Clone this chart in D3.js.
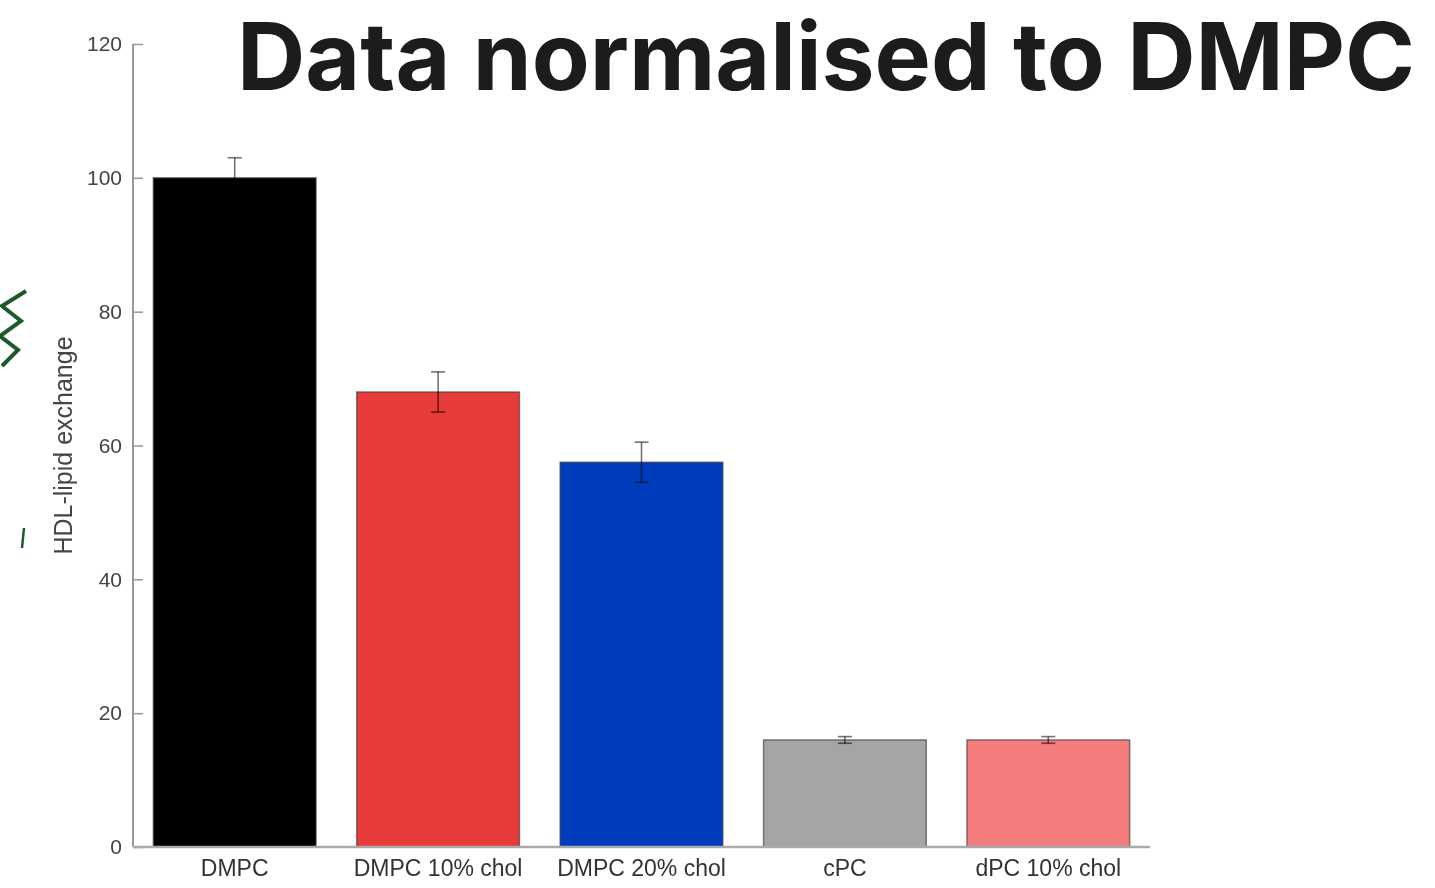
<!DOCTYPE html>
<html>
<head>
<meta charset="utf-8">
<script src="https://cdn.jsdelivr.net/npm/d3@7"></script>
<style>
  html, body { margin: 0; padding: 0; background: #fff; }
  svg { display: block; }
</style>
</head>
<body>
<svg id="chart" width="1435" height="888"></svg>
<script>
// Lipid exchange values, normalised to DMPC = 100
const categories = ["DMPC", "DMPC 10% chol", "DMPC 20% chol", "cPC", "dPC 10% chol"];
const values = [100, 68, 57.5, 16, 16];
const errors = [3, 3, 3, 0.5, 0.5];
const barColors = ["#000000", "#e83a3a", "#003ebd", "#a5a5a5", "#f47c7c"];
const yTicks = [0, 20, 40, 60, 80, 100, 120];
const title = "Data normalised to DMPC";
const yLabel = "HDL-lipid exchange";

const svg = d3.select("#chart");

const defs = svg.append("defs");
defs.append("filter").attr("id", "soft")
  .append("feGaussianBlur").attr("stdDeviation", 0.6);

const plot = { left: 133, right: 1150, top: 44, bottom: 847 };
const font = "'Liberation Sans', Arial, sans-serif";

const x = d3.scaleBand()
  .domain(categories)
  .range([plot.left, plot.right])
  .paddingInner(0.2)
  .paddingOuter(0.1);

const y = d3.scaleLinear()
  .domain([0, 120])
  .range([plot.bottom, plot.top]);

const chart = svg.append("g").attr("filter", "url(#soft)");

// Bars
chart.selectAll("rect.bar")
  .data(categories)
  .join("rect")
  .attr("class", "bar")
  .attr("x", d => x(d))
  .attr("y", (d, i) => y(values[i]))
  .attr("width", x.bandwidth())
  .attr("height", (d, i) => y(0) - y(values[i]))
  .attr("fill", (d, i) => barColors[i])
  .attr("stroke", "#333")
  .attr("stroke-opacity", 0.6)
  .attr("stroke-width", 1.5);

// Error bars
const capW = 14;
const err = chart.selectAll("g.err")
  .data(categories)
  .join("g")
  .attr("class", "err")
  .attr("stroke", "#000")
  .attr("stroke-opacity", 0.55)
  .attr("stroke-width", 1.6);
err.append("line")
  .attr("x1", d => x(d) + x.bandwidth() / 2)
  .attr("x2", d => x(d) + x.bandwidth() / 2)
  .attr("y1", (d, i) => y(values[i] - errors[i]))
  .attr("y2", (d, i) => y(values[i] + errors[i]));
err.append("line")
  .attr("x1", d => x(d) + x.bandwidth() / 2 - capW / 2)
  .attr("x2", d => x(d) + x.bandwidth() / 2 + capW / 2)
  .attr("y1", (d, i) => y(values[i] + errors[i]))
  .attr("y2", (d, i) => y(values[i] + errors[i]));
err.append("line")
  .attr("x1", d => x(d) + x.bandwidth() / 2 - capW / 2)
  .attr("x2", d => x(d) + x.bandwidth() / 2 + capW / 2)
  .attr("y1", (d, i) => y(values[i] - errors[i]))
  .attr("y2", (d, i) => y(values[i] - errors[i]));

// Y axis
const yAxis = chart.append("g")
  .attr("transform", `translate(${plot.left},0)`)
  .call(d3.axisLeft(y).tickValues(yTicks).tickSize(-10).tickPadding(11));
yAxis.select(".domain").attr("stroke", "#999").attr("stroke-width", 2)
  .attr("d", `M0,${plot.top}V${plot.bottom}`);
yAxis.selectAll(".tick line").attr("stroke", "#999").attr("stroke-width", 1.5);
yAxis.selectAll(".tick text")
  .attr("fill", "#444")
  .style("font-family", font)
  .style("font-size", "21px");

// X axis
const xAxis = chart.append("g")
  .attr("transform", `translate(0,${plot.bottom})`)
  .call(d3.axisBottom(x).tickSize(0).tickPadding(13));
xAxis.select(".domain").attr("stroke", "#aaa").attr("stroke-width", 2.5)
  .attr("d", `M${plot.left},0H${plot.right}`);
xAxis.selectAll(".tick text")
  .attr("fill", "#333")
  .style("font-family", font)
  .style("font-size", "23px");

// Y axis title
chart.append("text")
  .attr("transform", `translate(72,${(plot.top + plot.bottom) / 2}) rotate(-90)`)
  .attr("text-anchor", "middle")
  .attr("fill", "#444")
  .style("font-family", font)
  .style("font-size", "25px")
  .text(yLabel);

// Green leaf ornament at the left edge
chart.append("path")
  .attr("d", "M26,291 L2,306 L21,321 L0,336 L18,350 L2,366")
  .attr("fill", "none")
  .attr("stroke", "#1f5a2c")
  .attr("stroke-width", 4)
  .attr("stroke-linejoin", "miter");
chart.append("path")
  .attr("d", "M24,528 L22,548")
  .attr("stroke", "#1f5a2c")
  .attr("stroke-width", 2.5);

// Title
svg.append("text")
  .attr("x", 237)
  .attr("y", 90)
  .attr("fill", "#1c1c1c")
  .attr("textLength", 1178)
  .attr("lengthAdjust", "spacingAndGlyphs")
  .style("font-family", "Inter, 'Liberation Sans', sans-serif")
  .style("font-weight", 700)
  .style("font-size", "94px")
  .text(title);
</script>
</body>
</html>
